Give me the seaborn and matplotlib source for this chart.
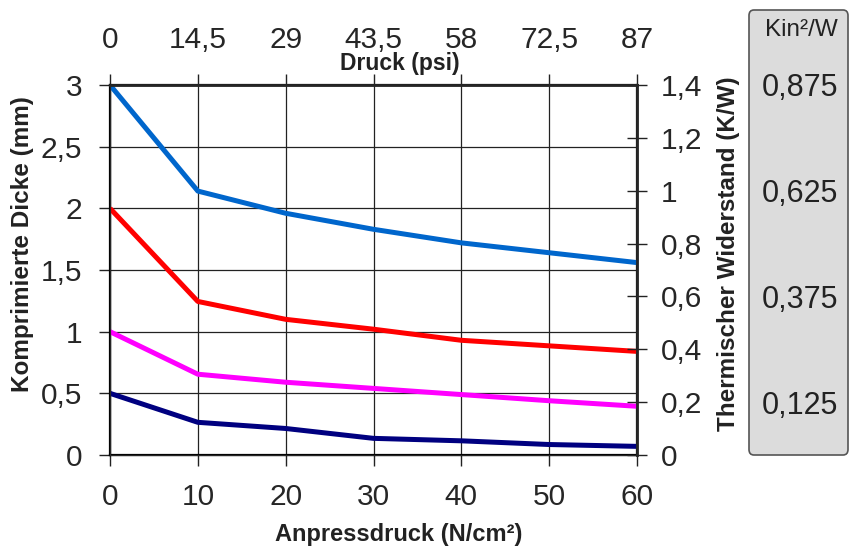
import pandas as pd
import matplotlib
matplotlib.use("Agg")
import matplotlib.pyplot as plt
from matplotlib.patches import FancyBboxPatch
import seaborn as sns

# Daten
anpressdruck = [0, 10, 20, 30, 40, 50, 60]
kurve_blau = [3.0, 2.14, 1.96, 1.83, 1.72, 1.64, 1.56]
kurve_rot = [2.0, 1.245, 1.10, 1.02, 0.93, 0.885, 0.84]
kurve_magenta = [1.0, 0.655, 0.59, 0.54, 0.49, 0.44, 0.395]
kurve_navy = [0.5, 0.265, 0.215, 0.135, 0.115, 0.085, 0.07]

links_ticks = [0, 0.5, 1, 1.5, 2, 2.5, 3]
links_labels = ["0", "0,5", "1", "1,5", "2", "2,5", "3"]
rechts_ticks = [0, 0.2, 0.4, 0.6, 0.8, 1.0, 1.2, 1.4]
rechts_labels = ["0", "0,2", "0,4", "0,6", "0,8", "1", "1,2", "1,4"]
psi_ticks = [0, 14.5, 29, 43.5, 58, 72.5, 87]
psi_labels = ["0", "14,5", "29", "43,5", "58", "72,5", "87"]
kin_ticks = [0.125, 0.375, 0.625, 0.875]
kin_labels = ["0,125", "0,375", "0,625", "0,875"]

farben = {"blau": "#0066cc", "rot": "#ff0000", "magenta": "#ff00ff", "navy": "#000080"}

df = pd.DataFrame({
    "x": anpressdruck * 4,
    "y": kurve_blau + kurve_rot + kurve_magenta + kurve_navy,
    "kurve": ["blau"] * 7 + ["rot"] * 7 + ["magenta"] * 7 + ["navy"] * 7,
})

sns.set_style("white")
plt.rcParams["font.family"] = ["Liberation Sans", "DejaVu Sans"]

fig = plt.figure(figsize=(8.57, 5.48), dpi=100)
ax = fig.add_axes([110 / 857, 93 / 548, 527 / 857, 370 / 548])

sns.lineplot(data=df, x="x", y="y", hue="kurve", palette=farben, linewidth=3.6,
             legend=False, ax=ax, solid_capstyle="butt", zorder=3)

ax.set_xlim(0, 60)
ax.set_ylim(0, 3)
ax.set_xticks(anpressdruck)
ax.set_xticklabels([str(v) for v in anpressdruck])
ax.set_yticks(links_ticks)
ax.set_yticklabels(links_labels)
ax.grid(True, color="#222222", linewidth=0.9, zorder=1)
ax.tick_params(axis="both", which="major", direction="out", length=8, width=1,
               color="#222222", labelsize=21.5, left=True, bottom=True)
ax.tick_params(axis="y", pad=12)
ax.tick_params(axis="x", pad=12)
for s in ax.spines.values():
    s.set_color("black")
    s.set_linewidth(1.6)

ax.set_xlabel("Anpressdruck (N/cm²)", fontsize=17, fontweight="bold", color="#222222")
ax.xaxis.set_label_coords((399 - 110) / 527, (455 - 534) / 370)
ax.xaxis.label.set_va("center")
ax.set_ylabel("Komprimierte Dicke (mm)", fontsize=17.5, fontweight="bold", color="#222222")
ax.yaxis.set_label_coords((23 - 110) / 527, (455 - 244) / 370)
ax.yaxis.label.set_va("center")

# rechte Achse: thermischer Widerstand
ax_r = ax.twinx()
ax_r.set_ylim(0, 1.4)
ax_r.set_yticks(rechts_ticks)
ax_r.set_yticklabels(rechts_labels)
ax_r.tick_params(axis="y", direction="inout", length=14, width=1, color="#222222",
                 labelsize=21.5, pad=10, right=True)
ax_r.grid(False)
ax_r.spines["right"].set_linewidth(2)
ax_r.set_ylabel("Thermischer Widerstand (K/W)", fontsize=17.5, fontweight="bold",
                color="#222222")
ax_r.yaxis.set_label_coords((728 - 110) / 527, (455 - 254) / 370)
ax_r.yaxis.label.set_va("center")

# obere Achse: Druck in psi
ax_t = ax.twiny()
ax_t.set_xlim(0, 87)
ax_t.set_xticks(psi_ticks)
ax_t.set_xticklabels(psi_labels)
ax_t.tick_params(axis="x", direction="out", length=8, width=1, color="#222222",
                 labelsize=21.5, pad=14, top=True)
ax_t.grid(False)
ax_t.spines["top"].set_linewidth(2)
ax_t.set_xlabel("Druck (psi)", fontsize=16.5, fontweight="bold", color="#222222")
ax_t.xaxis.set_label_coords((400 - 110) / 527, (455 - 64) / 370)
ax_t.xaxis.label.set_va("center")

# graue Box mit Kin²/W
ax_k = fig.add_axes([749 / 857, 93 / 548, 99 / 857, 445 / 548])
ax_k.set_ylim(0, 0.875 * 445 / 370)
ax_k.set_xlim(0, 1)
ax_k.patch.set_visible(False)
for s in ax_k.spines.values():
    s.set_visible(False)
ax_k.add_patch(FancyBboxPatch((0, 0), 1, 1, boxstyle="round,pad=0,rounding_size=0.05",
                              mutation_aspect=0.25, transform=ax_k.transAxes,
                              facecolor="#dcdcdc", edgecolor="#555555", linewidth=1.2,
                              clip_on=False, zorder=0))
ax_k.set_xticks([])
ax_k.set_yticks(kin_ticks)
ax_k.set_yticklabels(kin_labels, ha="left")
ax_k.tick_params(axis="y", length=0, pad=-9, labelsize=22, labelcolor="#222222")
ax_k.text(0.53, (455 - 30) / 445, "Kin²/W", transform=ax_k.transAxes,
          ha="center", va="center", fontsize=17.5, color="#222222")

fig.savefig("out.png", dpi=100)
